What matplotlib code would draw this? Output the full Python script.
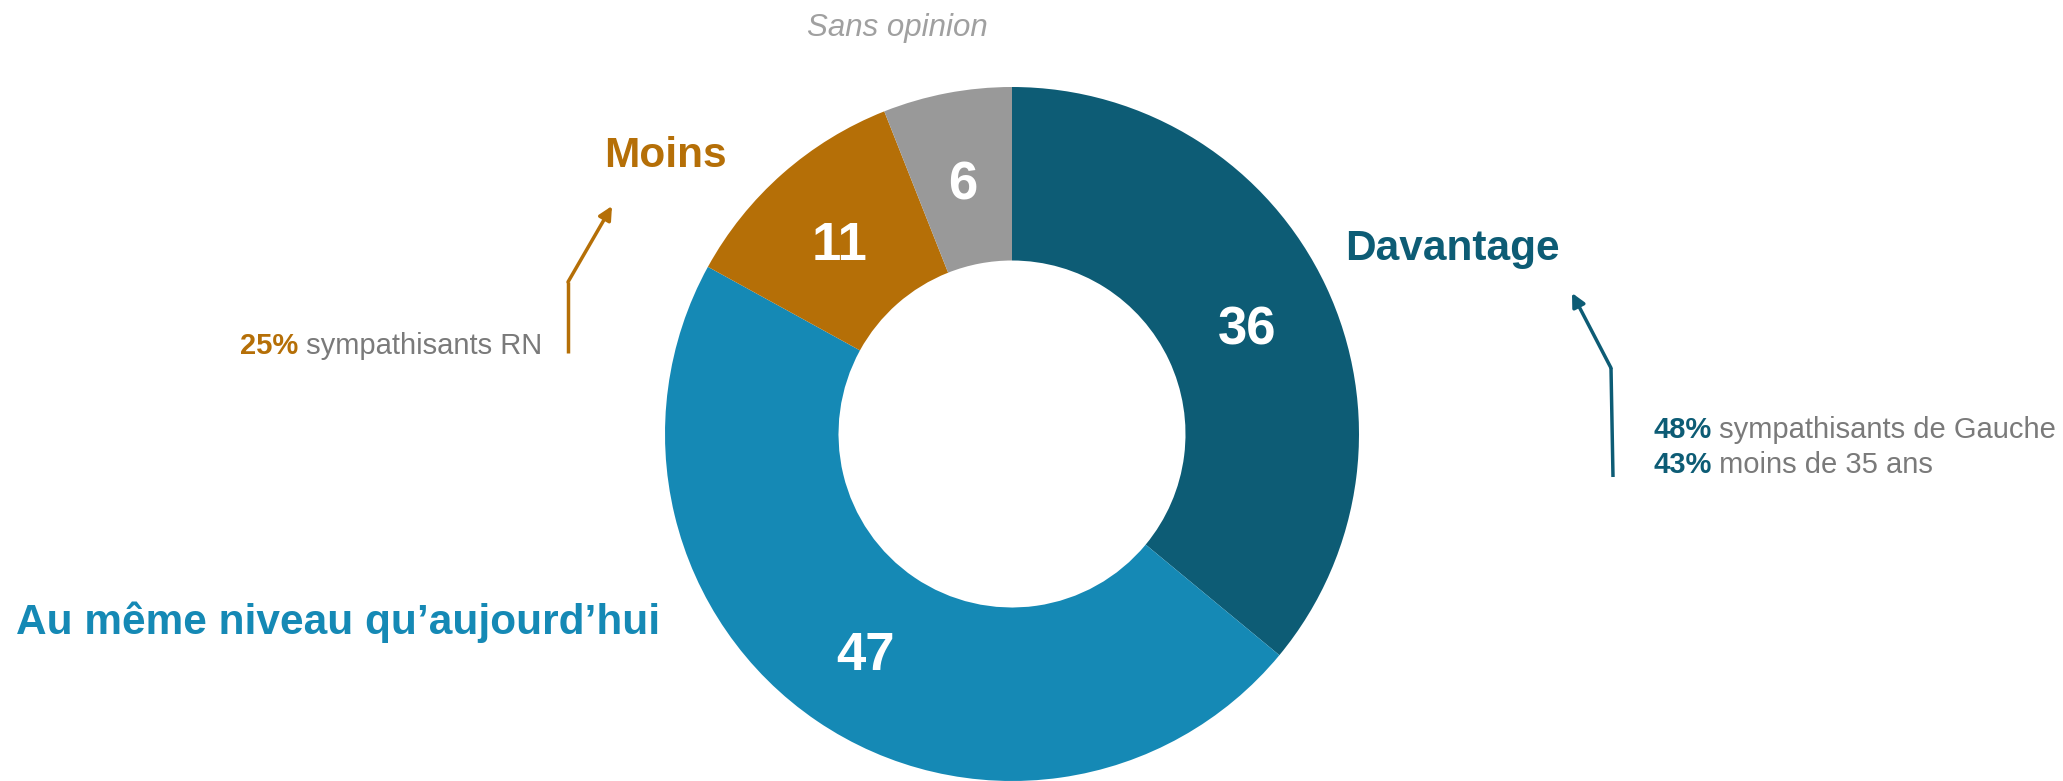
import matplotlib
matplotlib.use("Agg")
import matplotlib.pyplot as plt

plt.rcParams["font.family"] = ["Liberation Sans", "DejaVu Sans"]

# data, clockwise from 12 o'clock
categories = ["Davantage", "Au même niveau qu’aujourd’hui", "Moins", "Sans opinion"]
values = [36, 47, 11, 6]
colors = ["#0D5C75", "#1589B5", "#B56F07", "#999999"]

# annotations (bold figure + rest of the text)
moins_note = [("25%", " sympathisants RN")]
davantage_note = [("48%", " sympathisants de Gauche"), ("43%", " moins de 35 ans")]

W, H = 2063, 781
GREY_TXT = "#7A7A7A"


def main():
    fig = plt.figure(figsize=(W / 100, H / 100), dpi=100)
    ax = fig.add_axes([0, 0, 1, 1])

    # donut, coordinates are in pixels with y going up
    radius = 347
    wedges, texts, autotexts = ax.pie(
        values, colors=colors, startangle=90, counterclock=False,
        center=(1012, H - 434), radius=radius,
        wedgeprops=dict(width=radius * 0.5, linewidth=0),
        autopct=lambda p: f"{p:.0f}", pctdistance=0.75,
        textprops=dict(color="white", fontsize=38, fontweight="bold"))

    # numbers sit a bit lower in the original
    for t in autotexts:
        x, y = t.get_position()
        t.set_position((x, y - 7))

    ax.set_xlim(0, W)
    ax.set_ylim(0, H)
    ax.set_aspect("equal")
    ax.axis("off")

    # category labels
    ax.text(1345, H - 260, categories[0], color=colors[0], fontsize=30.5,
            fontweight="bold", ha="left", va="baseline")
    ax.text(16, H - 634, categories[1], color=colors[1], fontsize=30.5,
            fontweight="bold", ha="left", va="baseline")
    ax.text(665, H - 167, categories[2], color=colors[2], fontsize=30.5,
            fontweight="bold", ha="center", va="baseline")
    ax.text(897, H - 36, categories[3], color="#A0A0A0", fontsize=22.5,
            fontstyle="italic", ha="center", va="baseline")

    # side notes
    def note(x, y, bold, rest, color):
        t = ax.text(x, y, bold, color=color, fontsize=21, fontweight="bold",
                    ha="left", va="bottom")
        ax.annotate(rest, xy=(1, 0), xycoords=t, color=GREY_TXT, fontsize=21,
                    ha="left", va="bottom")

    note(240, H - 360, moins_note[0][0], moins_note[0][1], colors[2])
    for i, (b, r) in enumerate(davantage_note):
        note(1653, H - 444 - 35 * i, b, r, colors[0])

    # arrows
    head = "-|>,head_length=0.8,head_width=0.4"
    ax.plot([568, 568], [H - 353, H - 282], color=colors[2], lw=2.5,
            solid_capstyle="butt")
    ax.annotate("", xy=(612, H - 206), xytext=(568, H - 282),
                arrowprops=dict(arrowstyle=head, color=colors[2], lw=2.5,
                                shrinkA=0, shrinkB=0))

    ax.plot([1613, 1611], [H - 477, H - 368], color=colors[0], lw=2.5,
            solid_capstyle="butt")
    ax.annotate("", xy=(1572, H - 293), xytext=(1611, H - 368),
                arrowprops=dict(arrowstyle=head, color=colors[0], lw=2.5,
                                shrinkA=0, shrinkB=0))

    fig.savefig("out.png", dpi=100, facecolor="white")


if __name__ == "__main__":
    main()
